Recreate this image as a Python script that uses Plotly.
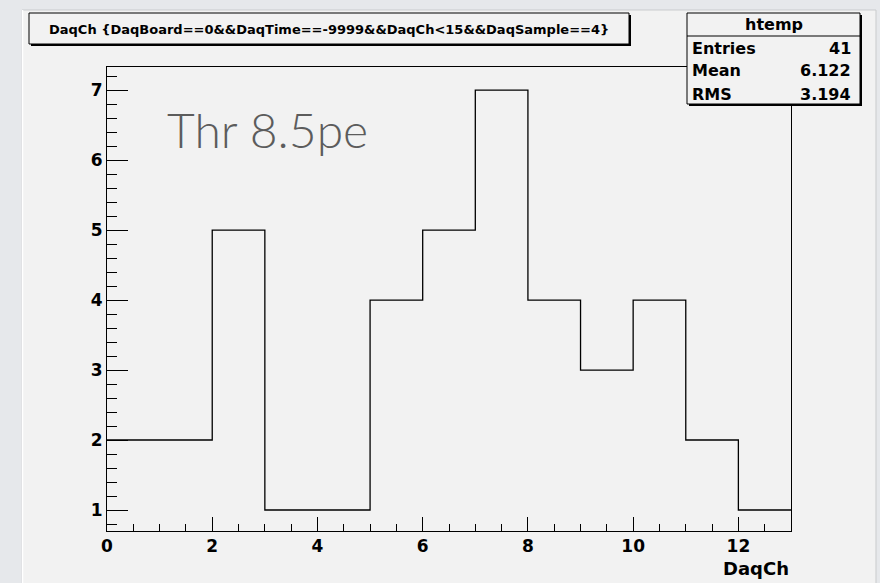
import plotly.graph_objects as go

# ---- data ----
channels = list(range(13))
counts = [2, 2, 5, 1, 1, 4, 5, 7, 4, 3, 4, 2, 1]
x_ticks = [0, 2, 4, 6, 8, 10, 12]
y_ticks = [1, 2, 3, 4, 5, 6, 7]
title_text = "DaqCh {DaqBoard==0&&DaqTime==-9999&&DaqCh<15&&DaqSample==4}"
stats_name = "htemp"
stats_labels = ["Entries", "Mean", "RMS"]
stats_values = ["41", "6.122", "3.194"]
note_text = "Thr 8.5pe"
x_title = "DaqCh"

W, H = 880, 583
L, R, T, B = 107, 791, 67, 531
PW, PH = R - L, B - T


def px(x):
    return (x - L) / PW


def py(y):
    return (B - y) / PH


edges = channels + [channels[-1] + 1]
yvals = counts + [counts[-1]]

ROOTFONT = "DejaVu Sans"
fig = go.Figure()
fig.add_trace(go.Scatter(
    x=edges, y=yvals, mode="lines", line_shape="hv",
    line=dict(color="black", width=1.3), hoverinfo="skip", showlegend=False,
))

shapes = []
# canvas
shapes.append(dict(type="rect", xref="paper", yref="paper", layer="below",
                   x0=px(22), x1=px(876), y0=py(10), y1=py(590),
                   fillcolor="#f2f2f2", line=dict(color="#c9cbcd", width=1)))
shapes.append(dict(type="line", xref="paper", yref="paper", layer="below",
                   x0=px(22.5), x1=px(22.5), y0=py(10), y1=py(590),
                   line=dict(color="white", width=1.5)))
# title box with shadow
shapes.append(dict(type="rect", xref="paper", yref="paper",
                   x0=px(31), x1=px(631), y0=py(15), y1=py(46),
                   fillcolor="black", line=dict(width=0)))
shapes.append(dict(type="rect", xref="paper", yref="paper",
                   x0=px(29), x1=px(629), y0=py(13), y1=py(44),
                   fillcolor="#f2f2f2", line=dict(color="black", width=1)))
# stats box with shadow
shapes.append(dict(type="rect", xref="paper", yref="paper",
                   x0=px(689), x1=px(862), y0=py(15), y1=py(106),
                   fillcolor="black", line=dict(width=0)))
shapes.append(dict(type="rect", xref="paper", yref="paper",
                   x0=px(687), x1=px(860), y0=py(13), y1=py(104),
                   fillcolor="#f2f2f2", line=dict(color="black", width=1)))
shapes.append(dict(type="line", xref="paper", yref="paper",
                   x0=px(687), x1=px(860), y0=py(36), y1=py(36),
                   line=dict(color="black", width=1)))

annotations = []
annotations.append(dict(xref="paper", yref="paper", x=px(47), y=py(29.5),
                        xanchor="left", yanchor="middle", showarrow=False,
                        text=title_text,
                        font=dict(family=ROOTFONT, size=13, color="black", weight="bold")))
annotations.append(dict(xref="paper", yref="paper", x=px(773.5), y=py(24),
                        xanchor="center", yanchor="middle", showarrow=False,
                        text=stats_name,
                        font=dict(family=ROOTFONT, size=16, color="black", weight="bold")))
for i, (lab, val) in enumerate(zip(stats_labels, stats_values)):
    yy = py(48 + i * 23)
    annotations.append(dict(xref="paper", yref="paper", x=px(690), y=yy,
                            xanchor="left", yanchor="middle", showarrow=False,
                            text=lab,
                            font=dict(family=ROOTFONT, size=16, color="black", weight="bold")))
    annotations.append(dict(xref="paper", yref="paper", x=px(853), y=yy,
                            xanchor="right", yanchor="middle", showarrow=False,
                            text=val,
                            font=dict(family=ROOTFONT, size=16, color="black", weight="bold")))
annotations.append(dict(xref="paper", yref="paper", x=px(165), y=py(129),
                        xanchor="left", yanchor="middle", showarrow=False,
                        text=note_text,
                        font=dict(family="Lato", size=48, color="#5c5c5c", weight=300)))
annotations.append(dict(xref="paper", yref="paper", x=1.0, y=py(568),
                        xanchor="right", yanchor="middle", showarrow=False,
                        text=x_title,
                        font=dict(family=ROOTFONT, size=18, color="black", weight="bold")))

axis_font = dict(family=ROOTFONT, size=17, color="black", weight="bold")
fig.update_layout(
    width=W, height=H,
    margin=dict(l=L, r=W - R, t=T, b=H - B, pad=0),
    paper_bgcolor="#e6e8eb",
    plot_bgcolor="#f2f2f2",
    shapes=shapes,
    annotations=annotations,
    showlegend=False,
    xaxis=dict(range=[0, 13], tickvals=x_ticks, ticks="inside", ticklen=14,
               tickcolor="black", tickwidth=1, showgrid=False, zeroline=False,
               showline=True, linecolor="black", linewidth=1, mirror=True,
               tickfont=axis_font,
               minor=dict(dtick=0.5, tick0=0, ticks="inside", ticklen=7,
                          tickcolor="black", tickwidth=1, showgrid=False)),
    yaxis=dict(range=[0.7, 7.33], tickvals=y_ticks, ticks="inside", ticklen=21,
               tickcolor="black", tickwidth=1, showgrid=False, zeroline=False,
               showline=True, linecolor="black", linewidth=1, mirror=True,
               tickfont=axis_font,
               minor=dict(dtick=0.2, tick0=0, ticks="inside", ticklen=10,
                          tickcolor="black", tickwidth=1, showgrid=False)),
)

fig.write_html("out.html")
